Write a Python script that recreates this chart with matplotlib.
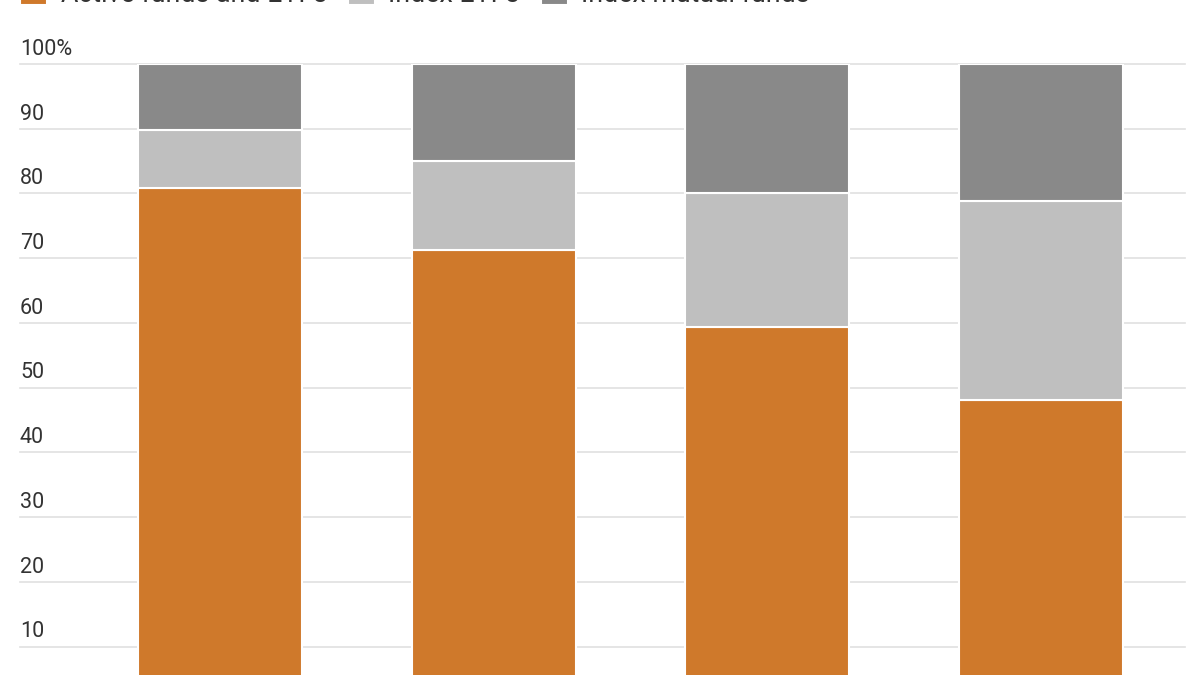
import matplotlib.pyplot as plt

# Data (shares in %)
categories = ['A', 'B', 'C', 'D']
active = [80.8, 71.3, 59.4, 48.1]
index_etfs = [9.0, 13.7, 20.7, 30.7]
index_mutual = [10.2, 15.0, 19.9, 21.2]
series_names = ['Active funds and ETFs', 'Index ETFs', 'Index mutual funds']
colors = ['#CF792B', '#BFBFBF', '#898989']
yticks = [10, 20, 30, 40, 50, 60, 70, 80, 90, 100]
ytick_labels = ['10', '20', '30', '40', '50', '60', '70', '80', '90', '100%']

plt.rcParams['font.family'] = ['Roboto', 'DejaVu Sans']

fig = plt.figure(figsize=(12, 6.75), dpi=100)
ax = fig.add_axes([20 / 1200, 0, 1165 / 1200, 611 / 675])

x = list(range(len(categories)))
bottoms2 = active
bottoms3 = [a + b for a, b in zip(active, index_etfs)]
ax.bar(x, active, width=0.6, color=colors[0], edgecolor='white', linewidth=1.5,
       label=series_names[0], zorder=3)
ax.bar(x, index_etfs, width=0.6, bottom=bottoms2, color=colors[1], edgecolor='white',
       linewidth=1.5, label=series_names[1], zorder=3)
ax.bar(x, index_mutual, width=0.6, bottom=bottoms3, color=colors[2], edgecolor='white',
       linewidth=1.5, label=series_names[2], zorder=3)

ax.set_xlim(-0.731, 3.526)
ax.set_ylim(5.6, 100)

for v in yticks:
    ax.axhline(v, color='#E0E0E0', linewidth=1.2, zorder=1, clip_on=False)
for v, lab in zip(yticks, ytick_labels):
    ax.annotate(lab, xy=(0, v), xycoords=('axes fraction', 'data'),
                xytext=(0, 3), textcoords='offset points', ha='left', va='bottom',
                fontsize=15.5, color='#333333')

ax.set_xticks([])
ax.set_yticks([])
for s in ax.spines.values():
    s.set_visible(False)

fig.legend(loc='lower left', bbox_to_anchor=(0.017, 0.988), ncol=3, frameon=False,
           fontsize=19.3, handlelength=1.0, handleheight=1.0, columnspacing=0.8,
           handletextpad=0.5, labelcolor='#333333', borderaxespad=0, borderpad=0)

fig.savefig('out.png', dpi=100)
